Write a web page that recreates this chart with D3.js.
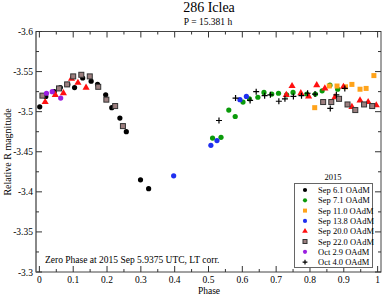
<!DOCTYPE html>
<html>
<head>
<meta charset="utf-8">
<script src="https://cdn.jsdelivr.net/npm/d3@7"></script>
<style>
  body { margin: 0; background: #fff; }
  svg text { font-family: "Liberation Serif", "DejaVu Serif", serif; fill: #000; }
</style>
</head>
<body>
<div id="chart"></div>
<script>
// session names and symbols (legend order)
const sessions = ["Sep 6.1 OAdM", "Sep 7.1 OAdM", "Sep 11.0 OAdM", "Sep 13.8 OAdM",
                  "Sep 20.0 OAdM", "Sep 22.0 OAdM", "Oct 2.9 OAdM", "Oct 4.0 OAdM"];
const colors = ["#000000", "#0a9a0a", "#ffa31a", "#1f2ff0", "#ff1010", "#9c7f7f", "#9a1ee0", "#000000"];
const shapes = ["circle", "circle", "square", "circle", "triangle", "square", "circle", "cross"];

// [phase, magnitude] per session
const sep06 = [[0.001,-3.506],[0.019,-3.519],[0.044,-3.525],[0.062,-3.530],[0.084,-3.534],[0.104,-3.530],
  [0.128,-3.542],[0.153,-3.538],[0.172,-3.534],[0.196,-3.521],[0.214,-3.505],[0.238,-3.492],[0.257,-3.475],
  [0.299,-3.415],[0.323,-3.404]];
const sep07 = [[0.512,-3.467],[0.537,-3.468],[0.560,-3.502],[0.579,-3.494],[0.602,-3.512],[0.621,-3.516],
  [0.646,-3.518],[0.664,-3.524],[0.687,-3.522],[0.707,-3.523],[0.731,-3.521],[0.750,-3.524],[0.791,-3.522],
  [0.816,-3.522],[0.836,-3.526],[0.859,-3.533],[0.882,-3.528]];
const sep11 = [[0.814,-3.505],[0.857,-3.532],[0.880,-3.532],[0.905,-3.531],[0.924,-3.534],[0.948,-3.528],
  [0.966,-3.529],[0.989,-3.545]];
const sep13 = [[0.397,-3.420],[0.507,-3.458],[0.525,-3.464],[0.593,-3.515],[0.612,-3.519]];
const sep20 = [[0.017,-3.512],[0.047,-3.521],[0.071,-3.523],[0.095,-3.541],[0.114,-3.536],[0.138,-3.530],
  [0.730,-3.521],[0.747,-3.532],[0.773,-3.523],[0.796,-3.519],[0.820,-3.533],[0.844,-3.529],[0.874,-3.518],
  [0.899,-3.531],[0.924,-3.506],[0.948,-3.514],[0.972,-3.512],[0.996,-3.508]];
const sep22 = [[0.009,-3.520],[0.058,-3.529],[0.082,-3.534],[0.100,-3.544],[0.124,-3.546],[0.149,-3.544],
  [0.174,-3.531],[0.198,-3.515],[0.224,-3.507],[0.247,-3.482],[0.839,-3.512],[0.863,-3.512],[0.886,-3.516],
  [0.911,-3.509],[0.934,-3.502],[0.960,-3.509],[0.984,-3.507]];
const oct02 = [[0.021,-3.523],[0.038,-3.525],[0.063,-3.517]];
const oct04 = [[0.531,-3.489],[0.580,-3.517],[0.623,-3.514],[0.641,-3.525],[0.666,-3.520],[0.683,-3.521],
  [0.708,-3.513],[0.726,-3.516],[0.751,-3.519],[0.775,-3.520],[0.793,-3.523],[0.815,-3.522],[0.860,-3.504],
  [0.878,-3.521],[0.903,-3.529]];
const seriesData = [sep06, sep07, sep11, sep13, sep20, sep22, oct02, oct04];

const xTicks = [0, 0.1, 0.2, 0.3, 0.4, 0.5, 0.6, 0.7, 0.8, 0.9, 1];
const yTicks = [-3.6, -3.55, -3.5, -3.45, -3.4, -3.35, -3.3];

const width = 382, height = 294;
const plotLeft = 36, plotRight = 381, plotTop = 31.5, plotBottom = 272;

const svg = d3.select("#chart").append("svg")
    .attr("width", width).attr("height", height);

const x = d3.scaleLinear().domain([-0.01, 1.01]).range([plotLeft, plotRight]);
const y = d3.scaleLinear().domain([-3.6, -3.3]).range([plotTop, plotBottom]);

// frame
svg.append("rect")
    .attr("x", plotLeft).attr("y", plotTop)
    .attr("width", plotRight - plotLeft).attr("height", plotBottom - plotTop)
    .attr("fill", "none").attr("stroke", "#444").attr("stroke-width", 1);
svg.append("line").attr("x1", plotLeft).attr("x2", plotLeft).attr("y1", plotTop).attr("y2", plotBottom)
    .attr("stroke", "#888").attr("stroke-width", 2);

// ticks, all pointing inward
const xMinor = d3.range(0, 1.001, 0.05);
const yMinor = d3.range(-3.6, -3.299, 0.025);
const isMajorX = v => Math.abs(v * 10 - Math.round(v * 10)) < 1e-6;
const isMajorY = v => Math.abs(v * 20 - Math.round(v * 20)) < 1e-6;

const ticks = svg.append("g").attr("stroke", "#333").attr("stroke-width", 1);
xMinor.forEach(v => {
  const len = isMajorX(v) ? 6 : 3;
  ticks.append("line").attr("x1", x(v)).attr("x2", x(v)).attr("y1", plotBottom).attr("y2", plotBottom - len);
  ticks.append("line").attr("x1", x(v)).attr("x2", x(v)).attr("y1", plotTop).attr("y2", plotTop + len);
});
yMinor.forEach(v => {
  const len = isMajorY(v) ? 6 : 3;
  ticks.append("line").attr("y1", y(v)).attr("y2", y(v)).attr("x1", plotLeft).attr("x2", plotLeft + len);
  ticks.append("line").attr("y1", y(v)).attr("y2", y(v)).attr("x1", plotRight).attr("x2", plotRight - len);
});

// tick labels
svg.append("g").selectAll("text").data(xTicks).join("text")
    .attr("x", d => x(d)).attr("y", 282.5)
    .attr("text-anchor", "middle").attr("font-size", 9.5)
    .text(d => d3.format("")(d));
svg.append("g").selectAll("text").data(yTicks).join("text")
    .attr("x", 33).attr("y", d => y(d) + 3.5)
    .attr("text-anchor", "end").attr("font-size", 9.5)
    .text(d => d);

// titles
svg.append("text").attr("x", 209).attr("y", 12).attr("text-anchor", "middle")
    .attr("font-size", 14).text("286 Iclea");
svg.append("text").attr("x", 208).attr("y", 25).attr("text-anchor", "middle")
    .attr("font-size", 9.5).text("P = 15.381 h");
svg.append("text").attr("x", 209).attr("y", 293.5).attr("text-anchor", "middle")
    .attr("font-size", 9.5).text("Phase");
svg.append("text").attr("transform", "translate(11,152) rotate(-90)")
    .attr("text-anchor", "middle").attr("font-size", 10).text("Relative R magnitude");
svg.append("text").attr("x", 45).attr("y", 263)
    .attr("font-size", 9.5).text("Zero Phase at 2015 Sep 5.9375 UTC, LT corr.");

function drawSymbol(g, shape, color, cx, cy, s = 1) {
  if (shape === "circle") {
    g.append("circle").attr("cx", cx).attr("cy", cy).attr("r", 2.6 * s).attr("fill", color);
  } else if (shape === "square") {
    const dark = color === "#9c7f7f";
    g.append("rect").attr("x", cx - 2.5 * s).attr("y", cy - 2.5 * s).attr("width", 5 * s).attr("height", 5 * s)
      .attr("fill", color).attr("stroke", dark ? "#333" : "none").attr("stroke-width", dark ? 1 : 0);
  } else if (shape === "triangle") {
    g.append("path").attr("d", d3.symbol(d3.symbolTriangle, 22 * s * s)()).attr("transform", `translate(${cx},${cy})`)
      .attr("fill", color);
  } else {
    g.append("path").attr("d", `M${cx - 3 * s},${cy}H${cx + 3 * s}M${cx},${cy - 3 * s}V${cy + 3 * s}`)
      .attr("stroke", color).attr("stroke-width", 1.2);
  }
}

// points
const pts = svg.append("g");
seriesData.forEach((data, i) => {
  data.forEach(d => drawSymbol(pts, shapes[i], colors[i], x(d[0]), y(d[1])));
});

// legend
const lg = svg.append("g");
lg.append("rect").attr("x", 294.5).attr("y", 183.5).attr("width", 78).attr("height", 84)
    .attr("fill", "#fff").attr("stroke", "#666").attr("stroke-width", 1);
lg.append("text").attr("x", 333).attr("y", 180).attr("text-anchor", "middle")
    .attr("font-size", 8.5).text("2015");
sessions.forEach((s, i) => {
  const cy = 190 + i * 10.3;
  drawSymbol(lg, shapes[i], colors[i], 305, cy, 0.8);
  lg.append("text").attr("x", 318).attr("y", cy + 3).attr("font-size", 8.5).text(s);
});
</script>
</body>
</html>
